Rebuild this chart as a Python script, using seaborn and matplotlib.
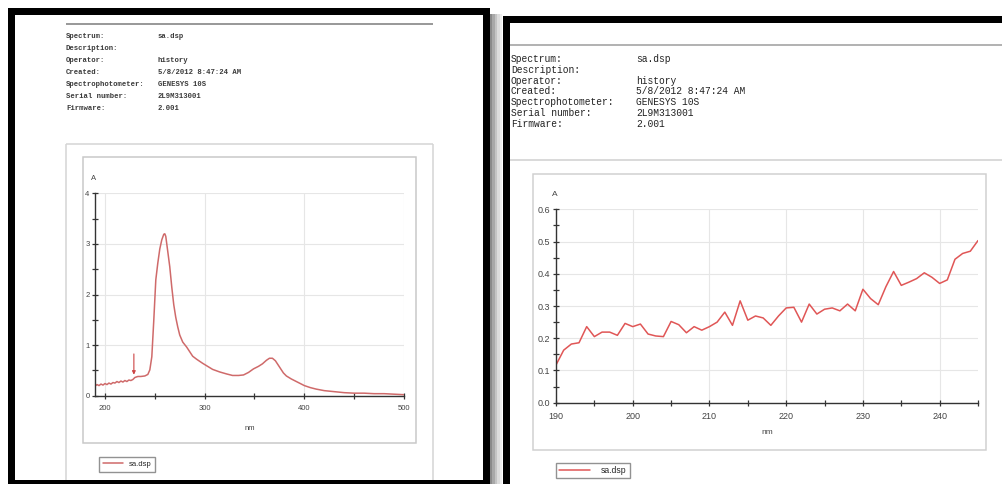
import matplotlib
matplotlib.use("Agg")
import matplotlib.pyplot as plt
from matplotlib.patches import Rectangle
from matplotlib.ticker import MultipleLocator, FormatStrFormatter
import seaborn as sns

# ---------------- data ----------------
header_labels = ["Spectrum:", "Description:", "Operator:", "Created:",
                 "Spectrophotometer:", "Serial number:", "Firmware:"]
header_values = ["sa.dsp", "", "history", "5/8/2012 8:47:24 AM",
                 "GENESYS 10S", "2L9M313001", "2.001"]
series_name = "sa.dsp"

# full scan 190-500 nm (left report)
full_nm = [190, 192, 194, 196, 198, 200, 202, 204, 206, 208, 210, 212, 214, 216,
           218, 220, 222, 224, 226, 228, 230, 233, 236, 240, 243, 245, 247, 249,
           251, 253, 255, 257, 259, 260, 261, 263, 265, 267, 269, 271, 273, 275,
           278, 282, 285, 288, 292, 298, 303, 308, 315, 322, 328, 334, 339, 344,
           349, 354, 358, 362, 365, 368, 371, 375, 379, 382, 387, 392, 397, 400,
           406, 412, 420, 430, 440, 450, 460, 470, 480, 490, 500]
full_abs = [0.19, 0.22, 0.20, 0.23, 0.21, 0.24, 0.22, 0.25, 0.23, 0.26, 0.25, 0.28,
            0.26, 0.29, 0.27, 0.30, 0.28, 0.31, 0.30, 0.32, 0.36, 0.38, 0.38, 0.39,
            0.42, 0.51, 0.77, 1.50, 2.29, 2.62, 2.90, 3.08, 3.19, 3.20, 3.15, 2.85,
            2.55, 2.15, 1.80, 1.55, 1.36, 1.20, 1.06, 0.96, 0.87, 0.78, 0.72, 0.64,
            0.58, 0.52, 0.47, 0.43, 0.40, 0.40, 0.41, 0.46, 0.53, 0.58, 0.63, 0.70,
            0.74, 0.74, 0.69, 0.57, 0.45, 0.39, 0.33, 0.28, 0.23, 0.20, 0.16, 0.13,
            0.10, 0.08, 0.06, 0.05, 0.05, 0.04, 0.04, 0.03, 0.02]
marker_nm = 229
marker_abs = 0.36

# zoomed scan 190-245 nm (right report)
zoom_nm = list(range(190, 246))
zoom_abs = [0.117, 0.163, 0.182, 0.186, 0.236, 0.205, 0.219, 0.219, 0.209, 0.246,
            0.236, 0.244, 0.213, 0.207, 0.205, 0.252, 0.242, 0.217, 0.236, 0.225,
            0.236, 0.250, 0.281, 0.240, 0.316, 0.256, 0.269, 0.263, 0.240, 0.269,
            0.294, 0.296, 0.250, 0.306, 0.275, 0.290, 0.294, 0.285, 0.306, 0.285,
            0.352, 0.323, 0.304, 0.360, 0.407, 0.364, 0.374, 0.385, 0.403, 0.389,
            0.370, 0.381, 0.445, 0.463, 0.470, 0.503]

# ---------------- figure ----------------
sns.set_style("white")
plt.rcParams["font.family"] = ["Liberation Sans", "DejaVu Sans"]

W, H = 1002, 484
fig = plt.figure(figsize=(W / 100, H / 100), dpi=100)
fig.patch.set_facecolor("white")

bg = fig.add_axes([0, 0, 1, 1])
bg.set_xlim(0, W)
bg.set_ylim(H, 0)
bg.axis("off")

PX = 0.72  # points per pixel


def rect(x0, y0, x1, y1, **kw):
    bg.add_patch(Rectangle((x0, y0), x1 - x0, y1 - y0, **kw))


def hline(y, x0, x1, color, lw):
    bg.plot([x0, x1], [y, y], color=color, lw=lw * PX, solid_capstyle="butt")


def vline(x, y0, y1, color, lw):
    bg.plot([x, x], [y0, y1], color=color, lw=lw * PX, solid_capstyle="butt")


# panel shadows
for i, c in enumerate(["#8a8a8a", "#a8a8a8", "#c4c4c4", "#dcdcdc", "#eeeeee"]):
    rect(490 + i * 2.4, 14, 492.4 + i * 2.4, H, color=c, lw=0)
# left report black frame
rect(8, 8, 490, H, color="black", lw=0)
rect(15, 15, 483, 480, color="white", lw=0)
# right report black frame
rect(503, 16, W, H, color="black", lw=0)
rect(510, 23, W, H, color="white", lw=0)

# ---- left header ----
hline(24, 66, 433, "#9a9a9a", 2)
ys_left = [37, 48.5, 60, 72, 84.5, 97, 109]
for lab, val, y in zip(header_labels, header_values, ys_left):
    bg.text(66, y, lab, fontsize=5.2, family="Liberation Mono", fontweight="bold",
            color="#3a3a3a", va="center", ha="left")
    bg.text(158, y, val, fontsize=5.2, family="Liberation Mono", fontweight="bold",
            color="#3a3a3a", va="center", ha="left")

# left chart frames
hline(144, 66, 433, "#d4d4d4", 1.5)
vline(66, 144, 480, "#d4d4d4", 1.5)
vline(433, 144, 480, "#d4d4d4", 1.5)
rect(83, 157, 416, 443, fill=False, edgecolor="#c8c8c8", lw=1.5 * PX)

# ---- right header ----
hline(45, 510, W, "#9a9a9a", 1.5)
ys_right = [59, 70, 81, 91.5, 102, 113, 124]
for lab, val, y in zip(header_labels, header_values, ys_right):
    bg.text(511, y, lab, fontsize=6.9, family="Liberation Mono",
            color="#222222", va="center", ha="left")
    bg.text(636, y, val, fontsize=6.9, family="Liberation Mono",
            color="#222222", va="center", ha="left")

# right chart frames
hline(160, 510, W, "#cfcfcf", 1.5)
rect(533, 174, 986, 450, fill=False, edgecolor="#d0d0d0", lw=1.5 * PX)


def fig_box(x0, y0, x1, y1):
    return [x0 / W, 1 - y1 / H, (x1 - x0) / W, (y1 - y0) / H]


def style_axes(ax, fs, tick_len, xpad):
    ax.set_facecolor("white")
    for s in ["top", "right"]:
        ax.spines[s].set_visible(False)
    for s in ["left", "bottom"]:
        ax.spines[s].set_color("#333333")
        ax.spines[s].set_linewidth(1.0)
    ax.grid(True, which="major", color="#e6e6e6", lw=0.8)
    ax.tick_params(which="both", direction="inout", length=tick_len, width=0.9,
                   color="#333333", labelsize=fs, labelcolor="#444444", pad=2)
    ax.tick_params(axis="x", which="both", pad=xpad)
    ax.tick_params(which="both", bottom=True, left=True)


# ---- left chart ----
axL = fig.add_axes(fig_box(95, 193.3, 404, 395.7))
sns.lineplot(x=full_nm, y=full_abs, ax=axL, color="#cf6a6a", lw=1.1,
             label=series_name, legend=False)
axL.set_xlim(190, 500)
axL.set_ylim(0, 4)
axL.set_xticks([200, 300, 400, 500])
axL.xaxis.set_minor_locator(MultipleLocator(50))
axL.yaxis.set_major_locator(MultipleLocator(1))
axL.yaxis.set_minor_locator(MultipleLocator(0.5))
style_axes(axL, 5.5, 4, 5)
axL.set_xlabel("nm", fontsize=5.5, color="#444444", labelpad=9)
axL.set_ylabel("")
axL.text(-0.005, 1.075, "A", transform=axL.transAxes, fontsize=5.5,
         color="#444444", ha="center", va="center")
axL.annotate("", xy=(marker_nm, marker_abs), xytext=(marker_nm, marker_abs + 0.52),
             arrowprops=dict(arrowstyle="-|>", color="#cc4444", lw=0.8,
                             mutation_scale=5))
axL.legend(loc="upper left", bbox_to_anchor=(99 / W, 1 - 457 / H),
           bbox_transform=fig.transFigure, fontsize=5.5, frameon=True,
           fancybox=False, edgecolor="#777777", borderaxespad=0,
           borderpad=0.5, handlelength=2.6, handletextpad=0.8)

# ---- right chart ----
axR = fig.add_axes(fig_box(556, 209.3, 978, 402.7))
sns.lineplot(x=zoom_nm, y=zoom_abs, ax=axR, color="#e05656", lw=1.1,
             label=series_name, legend=False)
axR.set_xlim(190, 245)
axR.set_ylim(0, 0.6)
axR.set_xticks([190, 200, 210, 220, 230, 240])
axR.xaxis.set_minor_locator(MultipleLocator(5))
axR.yaxis.set_major_locator(MultipleLocator(0.1))
axR.yaxis.set_minor_locator(MultipleLocator(0.05))
axR.yaxis.set_major_formatter(FormatStrFormatter("%.1f"))
style_axes(axR, 6.5, 5, 4)
axR.set_xlabel("nm", fontsize=6, color="#444444", labelpad=6)
axR.set_ylabel("")
axR.text(-0.002, 1.075, "A", transform=axR.transAxes, fontsize=6,
         color="#444444", ha="center", va="center")
axR.legend(loc="upper left", bbox_to_anchor=(556 / W, 1 - 463 / H),
           bbox_transform=fig.transFigure, fontsize=6.2, frameon=True,
           fancybox=False, edgecolor="#777777", borderaxespad=0,
           borderpad=0.35, handlelength=3.6, handletextpad=1.3)

fig.savefig("out.png", dpi=100)
